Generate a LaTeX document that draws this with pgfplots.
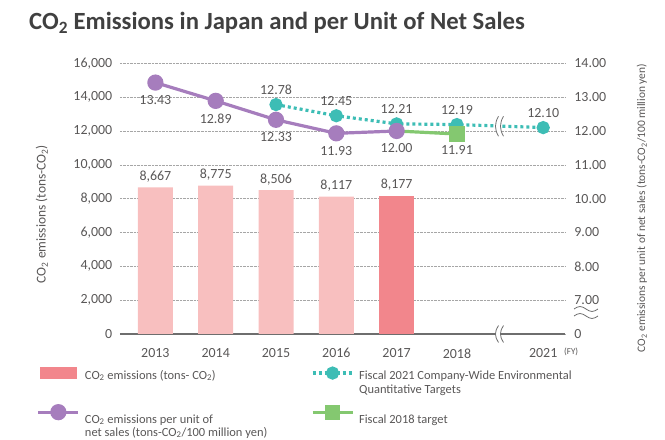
\documentclass[border=0pt]{standalone}
\usepackage{fontspec}
\setmainfont{Carlito}
\usepackage{pgfplots}
\pgfplotsset{compat=1.18}
\definecolor{txt}{HTML}{595757}
\definecolor{ttl}{HTML}{404040}
\definecolor{axgray}{HTML}{6E6E6E}
\definecolor{barL}{HTML}{F8BFBF}
\definecolor{barD}{HTML}{F2868C}
\definecolor{purp}{HTML}{A67DBD}
\definecolor{tealc}{HTML}{3DBDB5}
\definecolor{grn}{HTML}{84C870}
\newcommand{\cotwo}{CO\textsubscript{2}}
\pgfplotsset{
  mylegline/.style={legend image code/.code={\draw[##1, mark repeat=2, mark phase=2] plot coordinates {(0bp,6bp) (20bp,6bp) (40bp,6bp)}; \path (45bp,0bp);}},
  mylegline2/.style={legend image code/.code={\draw[##1, mark repeat=2, mark phase=2] plot coordinates {(0bp,11bp) (20bp,11bp) (40bp,11bp)}; \path (45bp,0bp);}},
  mylegbar/.style={legend image code/.code={\fill[barD] (2bp,0.5bp) rectangle (38bp,11.5bp); \path (45bp,0bp);}},
}
\begin{document}
\begin{tikzpicture}
\path[use as bounding box] (0bp,0bp) rectangle (665bp,440bp);
\node[anchor=base west, font=\fontsize{24.8}{28}\selectfont\bfseries, text=ttl, inner sep=0pt] at (29bp,410bp) {\cotwo{} Emissions in Japan and per Unit of Net Sales};

\begin{axis}[
  at={(119.8bp,106bp)}, anchor=south west, scale only axis,
  width=445.1bp, height=270.7bp,
  xmin=-0.59, xmax=6.79, ymin=0, ymax=16000,
  xtick={0,1,2,3,4,5,6.43},
  xticklabels={2013,2014,2015,2016,2017,2018,2021},
  ytick={0,2000,...,16000},
  scaled y ticks=false,
  major tick length=0pt,
  axis x line*=bottom, axis y line*=left,
  y axis line style={draw=none},
  x axis line style={draw=axgray, line width=1.3bp, -},
  ymajorgrids, major grid style={densely dotted, black!35, line width=0.6bp},
  tick label style={font=\fontsize{14}{16}\selectfont, text=txt},
  /pgf/number format/assume math mode=true,
  /pgf/number format/1000 sep={,},
  yticklabel style={xshift=-4bp},
  xticklabel style={yshift=-11bp},
  ylabel={\cotwo{} emissions (tons-\cotwo)},
  ylabel style={at={(axis description cs:-0.175,0.443)}, anchor=center, font=\fontsize{13.5}{15}\selectfont, text=txt},
  clip=false,
]
\addplot[ybar, bar width=35bp, bar shift=0pt, fill=barL, draw=none,
  nodes near coords, nodes near coords style={font=\fontsize{14}{16}\selectfont, text=txt, yshift=1.5bp}]
  coordinates {(0,8667) (1,8775) (2,8506) (3,8117)};
\addplot[ybar, bar width=35bp, bar shift=0pt, fill=barD, draw=none,
  nodes near coords, nodes near coords style={font=\fontsize{14}{16}\selectfont, text=txt, yshift=1.5bp}]
  coordinates {(4,8177)};
% x-axis break
\fill[white] ([xshift=-2.5bp,yshift=-8.5bp]axis cs:5.73,0) .. controls +(-4bp,6bp) and +(-4bp,-6bp) .. ++(0bp,17bp) -- ++(5bp,0bp) .. controls +(-4bp,-6bp) and +(-4bp,6bp) .. ++(0bp,-17bp) -- cycle;
\draw[axgray, line width=0.8bp] ([xshift=-2.5bp,yshift=-8.5bp]axis cs:5.73,0) .. controls +(-4bp,6bp) and +(-4bp,-6bp) .. ++(0bp,17bp);
\draw[axgray, line width=0.8bp] ([xshift=2.5bp,yshift=-8.5bp]axis cs:5.73,0) .. controls +(-4bp,6bp) and +(-4bp,-6bp) .. ++(0bp,17bp);
\end{axis}

\begin{axis}[
  at={(119.8bp,106bp)}, anchor=south west, scale only axis,
  width=445.1bp, height=270.7bp,
  xmin=-0.59, xmax=6.79, ymin=6, ymax=14,
  xtick=\empty,
  ytick={6,7,...,14},
  yticklabels={0,7.00,8.00,9.00,10.00,11.00,12.00,13.00,14.00},
  major tick length=0pt,
  axis x line=none, axis y line*=right,
  y axis line style={draw=none},
  tick label style={font=\fontsize{14}{16}\selectfont, text=txt},
  yticklabel style={xshift=6bp},
  ylabel={\cotwo{} emissions per unit of net sales (tons-\cotwo/100 million yen)},
  ylabel style={at={(axis description cs:1.173,0.465)}, anchor=center, font=\fontsize{11.5}{13}\selectfont, text=txt},
  clip=false,
  legend columns=2,
  legend style={at={(axis description cs:-0.187,-0.1225)}, anchor=north west, draw=none, fill=none,
    inner sep=0pt, nodes={inner sep=0pt}, row sep=25bp, column sep=0pt,
    font=\fontsize{12.5}{13}\selectfont, text=txt, cells={anchor=base west}},
]
\addlegendimage{mylegbar}
\addlegendentry{\parbox[t]{226bp}{\cotwo{} emissions (tons- \cotwo)}}

\addplot[tealc, line width=3.2bp, dash pattern=on 3bp off 3bp, mark=*, mark size=5bp, mark options={solid},
  point meta=explicit symbolic, nodes near coords,
  nodes near coords style={anchor=south, yshift=5.5bp, font=\fontsize{14}{16}\selectfont, text=txt},
  mylegline]
  coordinates {(2,12.78) [12.78] (3,12.45) [12.45] (4,12.21) [12.21] (5,12.19) [12.19] (6.43,12.10) [12.10]};
\addlegendentry{\parbox[t]{260bp}{Fiscal 2021 Company-Wide Environmental\\[1bp]Quantitative Targets}}

\addplot[purp, line width=3.2bp, mark=*, mark size=6.5bp,
  point meta=explicit symbolic, nodes near coords,
  nodes near coords style={anchor=north, yshift=-8bp, font=\fontsize{14}{16}\selectfont, text=txt},
  mylegline2]
  coordinates {(0,13.43) [13.43] (1,12.89) [12.89] (2,12.33) [12.33] (3,11.93) [11.93] (4,12.00) [12.00]};
\addlegendentry{\parbox[t]{226bp}{\cotwo{} emissions per unit of\\net sales (tons-\cotwo/100 million yen)}}

\addplot[grn, line width=3.2bp, mark=square*, mark size=6bp, mark indices={2},
  point meta=explicit symbolic, nodes near coords,
  nodes near coords style={anchor=north, yshift=-7bp, font=\fontsize{14}{16}\selectfont, text=txt},
  mylegline2]
  coordinates {(4,12.00) [] (5,11.91) [11.91]};
\addlegendentry{\parbox[t]{260bp}{Fiscal 2018 target}}

% break on target line
\fill[white] ([xshift=-2.5bp,yshift=-10bp]axis cs:5.73,12.14) .. controls +(-4bp,7bp) and +(-4bp,-7bp) .. ++(0bp,20bp) -- ++(5bp,0bp) .. controls +(-4bp,-7bp) and +(-4bp,7bp) .. ++(0bp,-20bp) -- cycle;
\draw[axgray, line width=0.8bp] ([xshift=-2.5bp,yshift=-10bp]axis cs:5.73,12.14) .. controls +(-4bp,7bp) and +(-4bp,-7bp) .. ++(0bp,20bp);
\draw[axgray, line width=0.8bp] ([xshift=2.5bp,yshift=-10bp]axis cs:5.73,12.14) .. controls +(-4bp,7bp) and +(-4bp,-7bp) .. ++(0bp,20bp);
\end{axis}

% right axis break mark
\draw[axgray, line width=0.8bp] (574bp,131bp) sin (580bp,133.5bp) cos (586bp,131bp) sin (592bp,128.5bp) cos (598bp,131bp);
\draw[axgray, line width=0.8bp] (574bp,124bp) sin (580bp,126.5bp) cos (586bp,124bp) sin (592bp,121.5bp) cos (598bp,124bp);
\node[anchor=west, inner sep=0pt, font=\fontsize{9}{10}\selectfont, text=txt] at (564bp,88bp) {(FY)};
\end{tikzpicture}
\end{document}
